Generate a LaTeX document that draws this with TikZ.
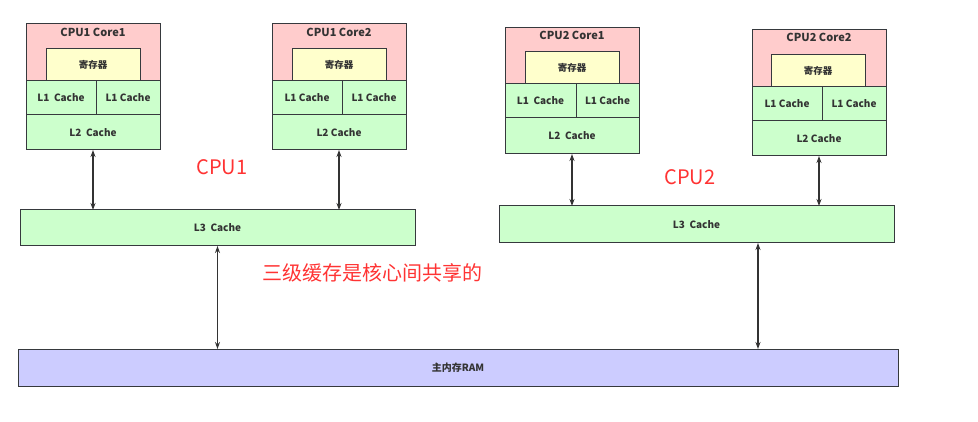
\documentclass[tikz,border=0pt]{standalone}
\usepackage{fontspec}
\setmainfont{Noto Sans CJK SC}
\usetikzlibrary{arrows.meta}
\definecolor{pinkc}{HTML}{FFCCCC}
\definecolor{yelc}{HTML}{FFFFCC}
\definecolor{grnc}{HTML}{CCFFCC}
\definecolor{ramc}{HTML}{CCCCFF}
\definecolor{edgec}{HTML}{36393D}
\definecolor{redc}{HTML}{FF3333}
\definecolor{txtc}{HTML}{333333}
\tikzset{
  cell/.style={draw=edgec, line width=1pt, anchor=north west, inner sep=0pt, outer sep=0pt,
    text=txtc, font=\fontsize{10}{12}\selectfont\bfseries},
  title/.style={text=txtc, inner sep=0pt, font=\fontsize{11}{13}\selectfont\bfseries},
  redlabel/.style={text=redc, inner sep=0pt, font=\fontsize{20}{24}\selectfont},
  arr/.style={draw=txtc, line width=1.2pt, {Stealth[length=7pt,width=5pt]}-{Stealth[length=7pt,width=5pt]}},
}
\newcommand{\mybox}[7]{\node[cell, fill=#6, minimum width={#4pt-#2pt}, minimum height={#5pt-#3pt}] (#1) at (#2,#3) {#7};}
\begin{document}
\begin{tikzpicture}[x=1pt,y=-1pt]
\useasboundingbox (0,0) rectangle (978,422);
% CPU1 Core1
\mybox{aco}{26}{24}{160}{150}{pinkc}{}
\mybox{areg}{46}{49}{140}{81}{yelc}{\fontsize{9.5}{11}\selectfont 寄存器}
\mybox{alA}{26}{81}{96}{115}{grnc}{L1\ \ Cache}
\mybox{alB}{96}{81}{160}{115}{grnc}{L1 Cache}
\mybox{alt}{26}{115}{160}{150}{grnc}{L2\ \ Cache}
\node[title] (at) at (93,32) {CPU1 Core1};
% CPU1 Core2
\mybox{bco}{272}{24}{406}{150}{pinkc}{}
\mybox{breg}{292}{49}{386}{81}{yelc}{\fontsize{9.5}{11}\selectfont 寄存器}
\mybox{blA}{272}{81}{342}{115}{grnc}{L1 Cache}
\mybox{blB}{342}{81}{406}{115}{grnc}{L1 Cache}
\mybox{blt}{272}{115}{406}{150}{grnc}{L2 Cache}
\node[title] (bt) at (339,32) {CPU1 Core2};
% CPU2 Core1
\mybox{cco}{505}{28}{639}{154}{pinkc}{}
\mybox{creg}{525}{52}{619}{84}{yelc}{\fontsize{9.5}{11}\selectfont 寄存器}
\mybox{clA}{505}{84}{576}{118}{grnc}{L1\ \ Cache}
\mybox{clB}{576}{84}{639}{118}{grnc}{L1 Cache}
\mybox{clt}{505}{118}{639}{154}{grnc}{L2\ \ Cache}
\node[title] (ct) at (572,35) {CPU2 Core1};
% CPU2 Core2
\mybox{dco}{752}{30}{886}{156}{pinkc}{}
\mybox{dreg}{771}{55}{865}{87}{yelc}{\fontsize{9.5}{11}\selectfont 寄存器}
\mybox{dlA}{752}{87}{822}{121}{grnc}{L1 Cache}
\mybox{dlB}{822}{87}{886}{121}{grnc}{L1 Cache}
\mybox{dlt}{752}{121}{886}{156}{grnc}{L2 Cache}
\node[title] (dt) at (819,37) {CPU2 Core2};
% L3 caches and RAM
\mybox{lthA}{20}{210}{415}{246}{grnc}{L3\ \ Cache}
\mybox{lthB}{499}{206}{894}{243}{grnc}{L3\ \ Cache}
\mybox{ram}{18}{349}{898}{386}{ramc}{主内存RAM}
% red labels
\node[redlabel] (cpuA) at (222,167) {CPU1};
\node[redlabel] (cpuB) at (690,177) {CPU2};
\node[redlabel] (share) at (372,273) {三级缓存是核心间共享的};
% connectors
\coordinate (mx) at (758,0);
\draw[arr] (alt.south) -- (alt.south |- lthA.north);
\draw[arr] (blt.south) -- (blt.south |- lthA.north);
\draw[arr] (clt.south) -- (clt.south |- lthB.north);
\draw[arr] (dlt.south) -- (dlt.south |- lthB.north);
\draw[arr] (lthA.south) -- (lthA.south |- ram.north);
\draw[arr] (lthB.south -| mx) -- (ram.north -| mx);
\end{tikzpicture}
\end{document}
